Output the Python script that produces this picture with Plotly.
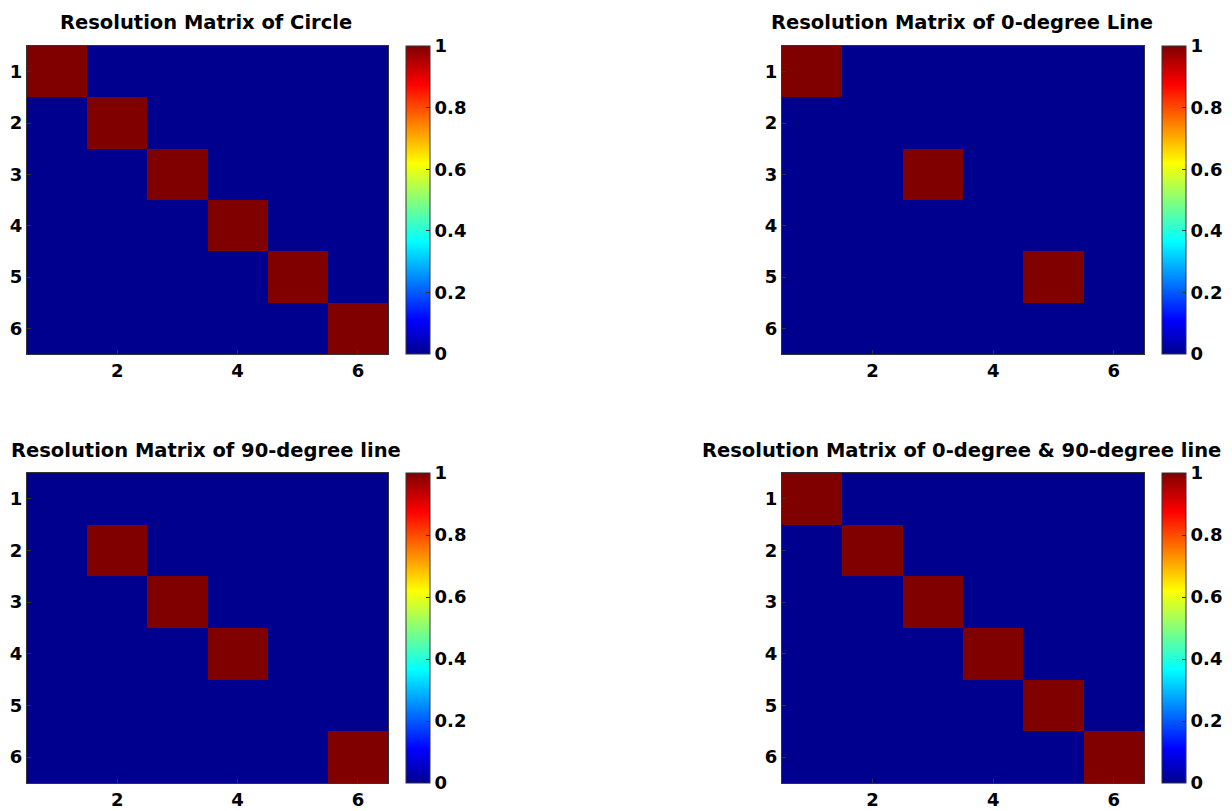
import plotly.graph_objects as go

# Resolution matrices (6x6), rows = parameter index, cols = parameter index
labels = [1, 2, 3, 4, 5, 6]

circle_diag = [1, 1, 1, 1, 1, 1]
line0_diag = [1, 0, 1, 0, 1, 0]
line90_diag = [0, 1, 1, 1, 0, 1]
line0_90_diag = [1, 1, 1, 1, 1, 1]

titles = [
    "Resolution Matrix of Circle",
    "Resolution Matrix of 0-degree Line",
    "Resolution Matrix of 90-degree line",
    "Resolution Matrix of 0-degree & 90-degree line",
]

cbar_ticks = [0, 0.2, 0.4, 0.6, 0.8, 1]
cbar_ticktext = ["0", "0.2", "0.4", "0.6", "0.8", "1"]


def diag_matrix(d):
    n = len(d)
    return [[d[i] if i == j else 0 for j in range(n)] for i in range(n)]


# MATLAB-style jet colormap
jet = [
    [0.0, "rgb(0,0,143)"],
    [0.11, "rgb(0,0,255)"],
    [0.365, "rgb(0,255,255)"],
    [0.62, "rgb(255,255,0)"],
    [0.875, "rgb(255,0,0)"],
    [1.0, "rgb(128,0,0)"],
]

W, H = 1232, 811
# pixel boxes: (left, right, top, bottom) of each heatmap
boxes = [
    (27, 388, 46, 354),
    (782, 1144, 46, 354),
    (27, 388, 473, 783),
    (782, 1144, 473, 783),
]
cbar_left = [406, 1162, 406, 1162]
title_y = [22, 22, 450, 450]

mats = [diag_matrix(d) for d in (circle_diag, line0_diag, line90_diag, line0_90_diag)]

font_fam = "DejaVu Sans, Arial, sans-serif"
tick_font = dict(family=font_fam, size=18, color="black", weight="bold")

fig = go.Figure()
annotations = []
for k in range(4):
    l, r, t, b = boxes[k]
    xa = "x" if k == 0 else f"x{k+1}"
    ya = "y" if k == 0 else f"y{k+1}"
    fig.add_trace(go.Heatmap(
        z=mats[k], x=labels, y=labels,
        colorscale=jet, zmin=0, zmax=1,
        xaxis=xa, yaxis=ya,
        colorbar=dict(
            x=cbar_left[k] / W, xanchor="left", xref="paper",
            y=1 - t / H, yanchor="top",
            len=b - t, lenmode="pixels",
            thickness=24, thicknessmode="pixels",
            tickvals=cbar_ticks, ticktext=cbar_ticktext,
            ticks="inside", ticklen=4, tickcolor="#333",
            tickfont=tick_font, outlinewidth=1, outlinecolor="#333",
            xpad=0, ypad=0, ticklabelposition="outside",
        ),
        showscale=True,
    ))
    axn = "" if k == 0 else str(k + 1)
    fig.update_layout(**{
        f"xaxis{axn}": dict(
            domain=[l / W, r / W], anchor=ya, range=[0.5, 6.5],
            tickvals=[2, 4, 6], ticks="inside", ticklen=4, tickcolor="#333",
            tickfont=tick_font, showgrid=False, zeroline=False,
            showline=True, linecolor="#333", linewidth=1, mirror=True,
        ),
        f"yaxis{axn}": dict(
            domain=[1 - b / H, 1 - t / H], anchor=xa, range=[6.5, 0.5],
            tickvals=labels, ticks="inside", ticklen=4, tickcolor="#333",
            tickfont=tick_font, showgrid=False, zeroline=False,
            showline=True, linecolor="#333", linewidth=1, mirror=True,
        ),
    })
    annotations.append(dict(
        text=f"<b>{titles[k]}</b>", x=(l + r) / 2 / W - 1.5 / W, y=1 - title_y[k] / H,
        xref="paper", yref="paper", xanchor="center", yanchor="middle",
        showarrow=False, font=dict(family=font_fam, size=19.5, color="black"),
    ))

fig.update_layout(
    width=W, height=H,
    margin=dict(l=0, r=0, t=0, b=0),
    paper_bgcolor="white", plot_bgcolor="white",
    annotations=annotations,
    showlegend=False,
)

fig.write_html("out.html")
